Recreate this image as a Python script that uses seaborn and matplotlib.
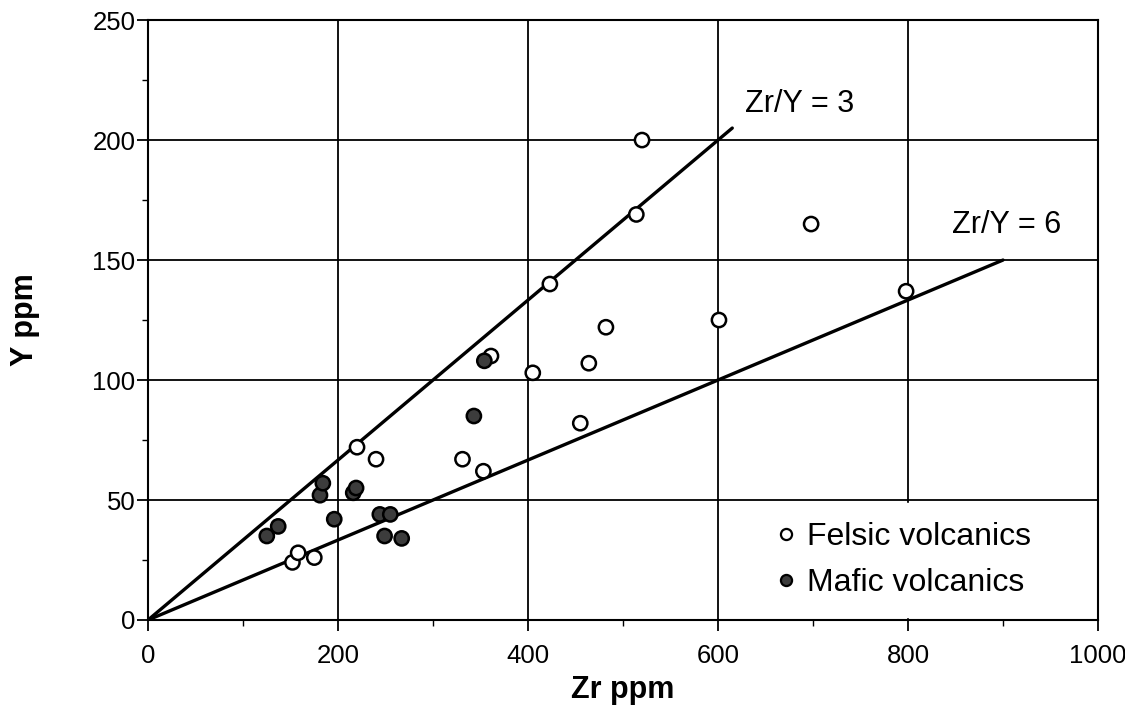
"""Zr vs Y plot for felsic and mafic volcanics"""
import numpy as np
import pandas as pd
import matplotlib
matplotlib.use("Agg")
import matplotlib.pyplot as plt
from matplotlib.ticker import MultipleLocator
from matplotlib.lines import Line2D
import seaborn as sns

# ================= DATA =================
felsic_zr = [152, 158, 175, 220, 240, 331, 353, 361, 405, 423, 455, 464, 482, 514, 520, 601, 698, 798]
felsic_y = [24, 28, 26, 72, 67, 67, 62, 110, 103, 140, 82, 107, 122, 169, 200, 125, 165, 137]

mafic_zr = [125, 137, 181, 184, 196, 216, 219, 244, 255, 249, 267, 343, 354]
mafic_y = [35, 39, 52, 57, 42, 53, 55, 44, 44, 35, 34, 85, 108]

# reference ratio lines (end of each line on the Zr axis)
ratio_3_zr = [0, 615]
ratio_6_zr = [0, 900]

df = pd.DataFrame({
    'Zr': felsic_zr + mafic_zr,
    'Y': felsic_y + mafic_y,
    'rock': ['Felsic volcanics'] * len(felsic_zr) + ['Mafic volcanics'] * len(mafic_zr),
})

sns.set_theme(style="white")
plt.rcParams['font.family'] = ['Liberation Sans', 'DejaVu Sans']
plt.rcParams['text.color'] = 'black'
plt.rcParams['axes.labelcolor'] = 'black'
plt.rcParams['xtick.color'] = 'black'
plt.rcParams['ytick.color'] = 'black'

fig = plt.figure(figsize=(11.25, 7.17), dpi=100)
ax = fig.add_axes([0.1316, 0.1353, 0.8444, 0.8367])

# ratio lines
sns.lineplot(x=ratio_3_zr, y=np.array(ratio_3_zr) / 3, color='black', lw=2.4, ax=ax, zorder=3)
sns.lineplot(x=ratio_6_zr, y=np.array(ratio_6_zr) / 6, color='black', lw=2.4, ax=ax, zorder=3)

sns.scatterplot(data=df, x='Zr', y='Y', hue='rock',
                palette={'Felsic volcanics': 'white', 'Mafic volcanics': '#3c3c3c'},
                edgecolor='black', linewidth=1.8, s=105, legend=False, ax=ax, zorder=4)

ax.text(628, 215, 'Zr/Y = 3', fontsize=22, va='center', ha='left')
ax.text(846, 164.5, 'Zr/Y = 6', fontsize=22, va='center', ha='left')

ax.set_xlim(0, 1000)
ax.set_ylim(0, 250)
ax.xaxis.set_major_locator(MultipleLocator(200))
ax.xaxis.set_minor_locator(MultipleLocator(100))
ax.yaxis.set_major_locator(MultipleLocator(50))
ax.yaxis.set_minor_locator(MultipleLocator(25))
ax.grid(True, which='major', color='black', lw=1.3)
ax.tick_params(which='major', direction='out', length=8, width=1.3,
               labelsize=18.5, left=True, bottom=True)
ax.tick_params(axis='x', which='major', pad=9)
ax.tick_params(axis='y', which='major', pad=1)
ax.tick_params(which='minor', direction='out', length=4, width=1.0,
               left=True, bottom=True)
for sp in ax.spines.values():
    sp.set_color('black')
    sp.set_linewidth(1.5)

ax.set_xlabel('Zr ppm', fontsize=22, fontweight='bold', labelpad=5)
ax.set_ylabel('Y ppm', fontsize=22, fontweight='bold', labelpad=38)

handles = [
    Line2D([], [], marker='o', ls='none', markerfacecolor='white', markeredgecolor='black',
           markersize=8, markeredgewidth=1.6),
    Line2D([], [], marker='o', ls='none', markerfacecolor='#3c3c3c', markeredgecolor='black',
           markersize=8, markeredgewidth=1.6),
]
leg = ax.legend(handles, ['Felsic volcanics', 'Mafic volcanics'], loc='center left',
                bbox_to_anchor=(0.635, 0.1), fontsize=23, frameon=True, fancybox=False,
                framealpha=1, edgecolor='white', handlelength=1.0, handletextpad=0.15,
                labelspacing=0.5, borderaxespad=0, borderpad=0.6)
leg.set_zorder(2.4)  # keep spines drawn over the white legend box

fig.savefig('out.png', dpi=100, facecolor='white')
